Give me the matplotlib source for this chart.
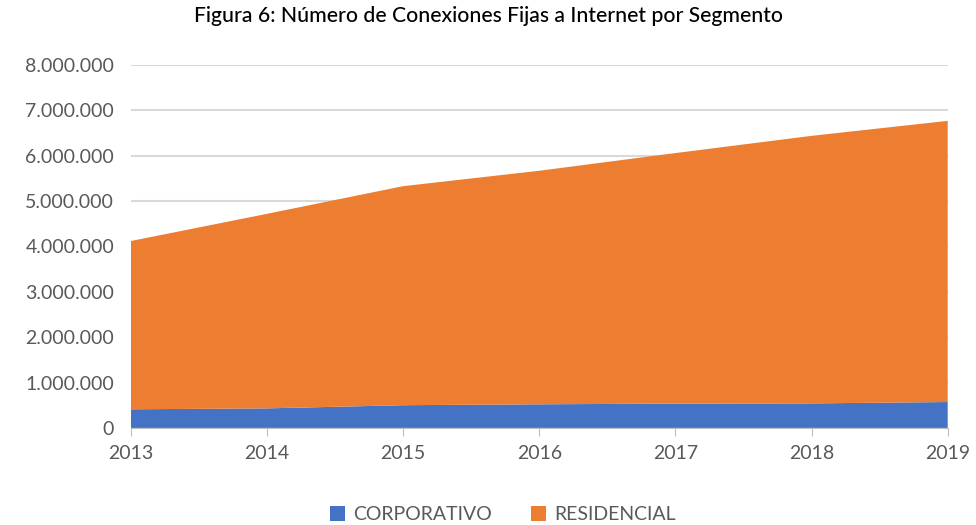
import matplotlib.pyplot as plt
from matplotlib.ticker import FuncFormatter

years = [2013, 2014, 2015, 2016, 2017, 2018, 2019]
corporativo = [410000, 430000, 500000, 520000, 535000, 540000, 570000]
total = [4120000, 4720000, 5330000, 5670000, 6060000, 6440000, 6770000]
residencial = [t - c for t, c in zip(total, corporativo)]

plt.rcParams['font.family'] = ['Lato', 'DejaVu Sans']
gray = '#595959'

fig = plt.figure(figsize=(9.76, 5.25), dpi=100)
ax = fig.add_axes([0.134, 0.185, 0.837, 0.691])

ax.stackplot(years, corporativo, residencial,
             colors=['#4472C4', '#ED7D31'],
             labels=['CORPORATIVO', 'RESIDENCIAL'], zorder=2)

ax.set_xlim(2013, 2019)
ax.set_ylim(0, 8000000)
ax.set_yticks(range(0, 8000001, 1000000))
ax.set_xticks(years)
ax.yaxis.set_major_formatter(FuncFormatter(lambda v, p: f"{int(v):,}".replace(",", ".")))
ax.grid(axis='y', color='#D9D9D9', linewidth=1.5, zorder=0)
ax.set_axisbelow(True)

for s in ['top', 'right', 'left']:
    ax.spines[s].set_visible(False)
ax.spines['bottom'].set_color('#BFBFBF')
ax.tick_params(axis='y', length=0, labelsize=14, labelcolor=gray, pad=12)
ax.tick_params(axis='x', length=6, color='#BFBFBF', labelsize=14, labelcolor=gray, pad=6)

fig.suptitle('Figura 6: Número de Conexiones Fijas a Internet por Segmento',
             fontsize=15.2, y=0.988, color='black', fontweight='medium')

fig.legend(loc='lower center', bbox_to_anchor=(0.515, -0.03), ncol=2,
           frameon=False, fontsize=14, labelcolor=gray,
           handlelength=0.8, handleheight=0.8, columnspacing=2.0, handletextpad=0.4)

plt.savefig('out.png', dpi=100)
